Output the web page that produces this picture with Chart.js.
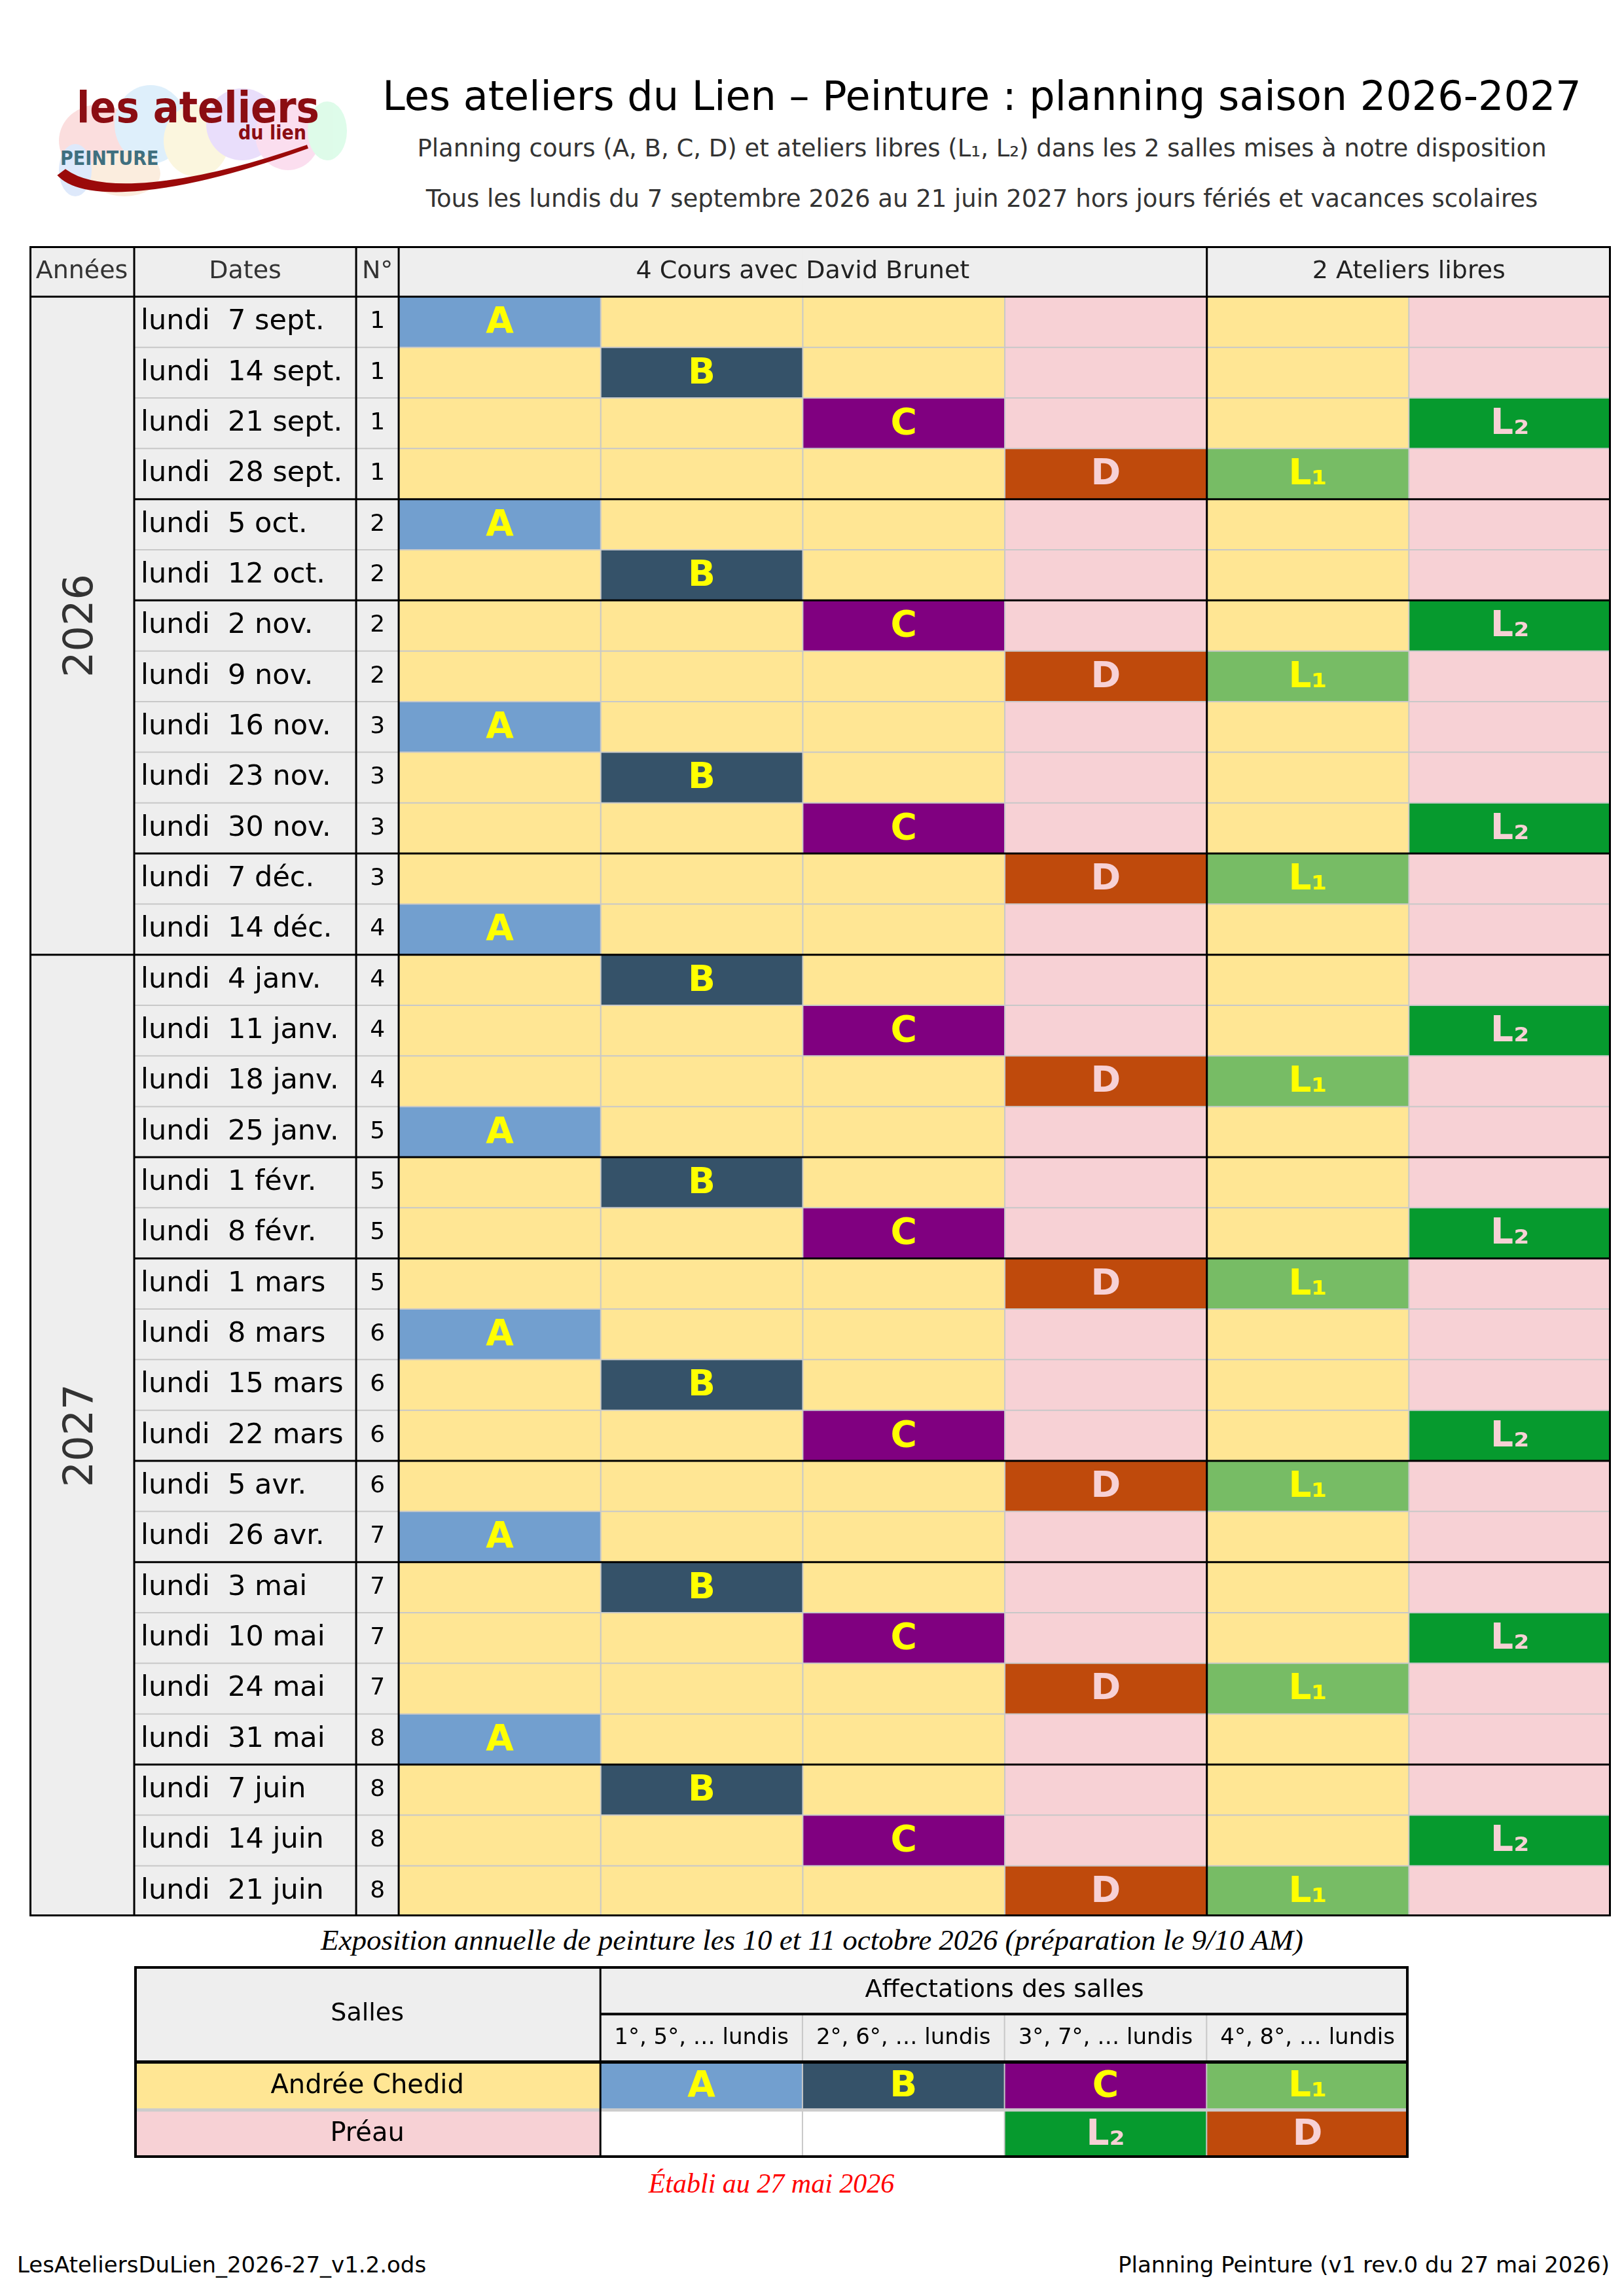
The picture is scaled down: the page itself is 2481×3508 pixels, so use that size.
<!DOCTYPE html>
<html>
<head>
<meta charset="utf-8">
<script src="https://cdn.jsdelivr.net/npm/chart.js@4"></script>
<style>
  body { margin: 0; width: 2481px; height: 3508px; background: #fff; position: relative; font-family: "DejaVu Sans", sans-serif; }
  .abs { position: absolute; }
  .txt { position: absolute; left: 0; width: 100%; text-align: center; white-space: nowrap; }
</style>
</head>
<body>
<svg class="abs" style="left:0;top:0" width="700" height="340">
  <g opacity="0.28">
    <ellipse cx="150" cy="215" rx="60" ry="55" fill="#f48a8a"/>
    <ellipse cx="230" cy="190" rx="55" ry="60" fill="#8ac8f4"/>
    <ellipse cx="300" cy="215" rx="50" ry="55" fill="#f4e08a"/>
    <ellipse cx="370" cy="190" rx="55" ry="55" fill="#b48af4"/>
    <ellipse cx="440" cy="205" rx="50" ry="55" fill="#f48ac8"/>
    <ellipse cx="500" cy="200" rx="30" ry="45" fill="#8af4b4"/>
    <ellipse cx="190" cy="265" rx="55" ry="35" fill="#f4c08a"/>
    <ellipse cx="115" cy="260" rx="25" ry="40" fill="#8ab4f4"/>
  </g>
  <text x="117" y="187" font-family="DejaVu Sans Condensed" font-weight="bold" font-size="66" fill="#8b0d12">les ateliers</text>
  <text x="468" y="213" text-anchor="end" font-family="DejaVu Sans Condensed" font-weight="bold" font-size="30" fill="#8b0d12">du lien</text>
  <text x="92" y="252" font-family="DejaVu Sans Condensed" font-weight="bold" font-size="30" fill="#3f6f7f">PEINTURE</text>
  <path d="M92,268 C130,305 260,300 470,224 C280,290 150,298 100,262 Z" fill="#9b0a0a" stroke="#9b0a0a" stroke-width="6"/>
</svg>

<div class="abs" style="left:520px;top:110px;width:1960px;">
  <div class="txt" style="top:0;font-size:62px;color:#000;">Les ateliers du Lien – Peinture : planning saison 2026-2027</div>
  <div class="txt" style="top:95px;font-size:37px;color:#333;">Planning cours (A, B, C, D) et ateliers libres (L₁, L₂) dans les 2 salles mises à notre disposition</div>
  <div class="txt" style="top:172px;font-size:37px;color:#333;">Tous les lundis du 7 septembre 2026 au 21 juin 2027 hors jours fériés et vacances scolaires</div>
</div>

<div class="abs" style="left:45px;top:376px;width:2416px;height:2552px;"><canvas id="planning"></canvas></div>

<div class="txt" style="top:2938px;font-family:'Liberation Serif';font-style:italic;font-size:45px;color:#000;left:0;">Exposition annuelle de peinture les 10 et 11 octobre 2026 (préparation le 9/10 AM)</div>

<div class="abs" style="left:205px;top:3004px;width:1947px;height:293px;"><canvas id="salles"></canvas></div>

<div class="txt" style="top:3312px;left:-62px;font-family:'Liberation Serif';font-style:italic;font-size:42px;color:#ff0000;">Établi au 27 mai 2026</div>
<div class="abs" style="left:26px;top:3440px;font-size:34px;color:#000;">LesAteliersDuLien_2026-27_v1.2.ods</div>
<div class="abs" style="right:22px;top:3440px;font-size:34px;color:#000;">Planning Peinture (v1 rev.0 du 27 mai 2026)</div>

<script>
// ---- data ----
const years = ['2026','2026','2026','2026','2026','2026','2026','2026','2026','2026','2026','2026','2026',
  '2027','2027','2027','2027','2027','2027','2027','2027','2027','2027','2027','2027','2027','2027','2027','2027','2027','2027'];
const dates = ['7 sept.','14 sept.','21 sept.','28 sept.','5 oct.','12 oct.','2 nov.','9 nov.','16 nov.','23 nov.','30 nov.',
  '7 déc.','14 déc.','4 janv.','11 janv.','18 janv.','25 janv.','1 févr.','8 févr.','1 mars','8 mars','15 mars','22 mars',
  '5 avr.','26 avr.','3 mai','10 mai','24 mai','31 mai','7 juin','14 juin','21 juin'];
const seances = [1,1,1,1,2,2,2,2,3,3,3,3,4,4,4,4,5,5,5,5,6,6,6,6,7,7,7,7,8,8,8,8];
const cours = ['A','B','C','D','A','B','C','D','A','B','C','D','A','B','C','D','A','B','C','D','A','B','C','D','A','B','C','D','A','B','C','D'];
const ateliers = ['','','L₂','L₁','','','L₂','L₁','','','L₂','L₁','','','L₂','L₁','','','L₂','L₁','','','L₂','L₁','','','L₂','L₁','','','L₂','L₁'];
years.push('2027');

const headers = ['Années','Dates','N°'];
const groupHeaders = ['4 Cours avec David Brunet','2 Ateliers libres'];

const salles = ['Andrée Chedid','Préau'];
const lundis = ['1°, 5°, … lundis','2°, 6°, … lundis','3°, 7°, … lundis','4°, 8°, … lundis'];
const affectChedid = ['A','B','C','L₁'];
const affectPreau = ['','','L₂','D'];

// ---- styles ----
const fill = { A:'#729fcf', B:'#355269', C:'#800080', D:'#bf4a0c', 'L₁':'#77bc65', 'L₂':'#069a2e' };
const ink = { A:'#ffff00', B:'#ffff00', C:'#ffff00', 'L₁':'#ffff00', D:'#f7d1d5', 'L₂':'#f7d1d5' };
const YEL = '#ffe694', PINK = '#f7d1d5', GREY = '#eeeeee', GRID = '#c8c8c8';
const baseCols = [YEL, YEL, YEL, PINK, YEL, PINK];
const coursCol = { A:0, B:1, C:2, D:3 };
const atelierCol = { 'L₁':4, 'L₂':5 };
const colW = [160, 339, 65, 308.6, 308.6, 308.6, 308.6, 308.6, 308.6];

function letterAt(i, c) {
  if (coursCol[cours[i]] === c) return cours[i];
  if (atelierCol[ateliers[i]] === c) return ateliers[i];
  return '';
}
function cellColor(k, r) {
  if (r === 0 || k < 3) return GREY;
  const l = letterAt(r - 1, k - 3);
  return l ? fill[l] : baseCols[k - 3];
}
function month(r) { return dates[r].split(' ')[1]; }

function line(ctx, x1, y1, x2, y2, color, w) {
  ctx.strokeStyle = color; ctx.lineWidth = w;
  ctx.beginPath(); ctx.moveTo(x1, y1); ctx.lineTo(x2, y2); ctx.stroke();
}
function text(ctx, s, x, y, font, color, align) {
  ctx.font = font; ctx.fillStyle = color; ctx.textAlign = align || 'center'; ctx.textBaseline = 'middle';
  ctx.fillText(s, x, y);
}
function colEdges(x, widths) {
  const xs = [0];
  widths.forEach(w => xs.push(xs[xs.length - 1] + w));
  return xs.map(v => x.getPixelForValue(v));
}

const LETTER_FONT = 'bold 55px "DejaVu Sans"';

const planningPlugin = {
  id: 'planningDecor',
  afterDatasetsDraw(chart) {
    const { ctx, scales: { x, y } } = chart;
    const px = colEdges(x, colW);
    const h = y.getPixelForValue(1) - y.getPixelForValue(0);
    const top = r => y.getPixelForValue(r) - h / 2;
    const n = dates.length + 1;
    ctx.save();
    // grey grid
    for (let r = 2; r < n; r++) {
      if (month(r - 1) !== month(r - 2)) continue;
      line(ctx, px[1], top(r), px[9], top(r), GRID, 2);
    }
    [4, 5, 6, 8].forEach(k => line(ctx, px[k], top(1), px[k], top(n), GRID, 2));
    // black rules
    for (let r = 2; r < n; r++) {
      if (years[r - 1] !== years[r - 2]) line(ctx, px[0], top(r), px[9], top(r), '#000', 3);
      else if (month(r - 1) !== month(r - 2)) line(ctx, px[1], top(r), px[9], top(r), '#000', 3);
    }
    [1, 2, 3, 7].forEach(k => line(ctx, px[k], top(0), px[k], top(n), '#000', 3));
    line(ctx, px[0], top(1), px[9], top(1), '#000', 3);
    ctx.strokeStyle = '#000'; ctx.lineWidth = 4;
    ctx.strokeRect(px[0] + 1, top(0) + 1, px[9] - px[0] - 2, top(n) - top(0) - 2);
    // header text
    const hy = y.getPixelForValue(0);
    const hf = '38px "DejaVu Sans"';
    headers.forEach((s, k) => text(ctx, s, (px[k] + px[k + 1]) / 2, hy, hf, '#333'));
    text(ctx, groupHeaders[0], (px[3] + px[7]) / 2, hy, hf, '#222');
    text(ctx, groupHeaders[1], (px[7] + px[9]) / 2, hy, hf, '#222');
    // rows
    dates.forEach((d, i) => {
      const cy = y.getPixelForValue(i + 1);
      text(ctx, 'lundi  ' + d, px[1] + 10, cy, '43px "DejaVu Sans"', '#000', 'left');
      text(ctx, String(seances[i]), (px[2] + px[3]) / 2, cy, '36px "DejaVu Sans"', '#000');
      for (let c = 0; c < 6; c++) {
        const l = letterAt(i, c);
        if (l) text(ctx, l, (px[c + 3] + px[c + 4]) / 2, cy + 2, LETTER_FONT, ink[l]);
      }
    });
    // years
    let start = 0;
    for (let i = 1; i <= dates.length; i++) {
      if (i === dates.length || years[i] !== years[start]) {
        const cy = (top(start + 1) + top(i + 1)) / 2;
        ctx.save();
        ctx.translate((px[0] + px[1]) / 2, cy);
        ctx.rotate(-Math.PI / 2);
        text(ctx, years[start], 0, 0, '62px "DejaVu Sans"', '#333');
        ctx.restore();
        start = i;
      }
    }
    ctx.restore();
  }
};

const rowLabels = ['header'].concat(dates);
new Chart(document.getElementById('planning'), {
  type: 'bar',
  data: {
    labels: rowLabels,
    datasets: colW.map((w, k) => ({
      data: rowLabels.map(() => w),
      backgroundColor: rowLabels.map((_, r) => cellColor(k, r)),
      borderWidth: 0,
      categoryPercentage: 1,
      barPercentage: 1
    }))
  },
  options: {
    indexAxis: 'y',
    responsive: true,
    maintainAspectRatio: false,
    animation: false,
    devicePixelRatio: 1,
    layout: { padding: 0 },
    plugins: { legend: { display: false }, tooltip: { enabled: false } },
    scales: {
      x: { stacked: true, min: 0, max: colW.reduce((a, b) => a + b, 0), display: false },
      y: { stacked: true, display: false }
    }
  },
  plugins: [planningPlugin]
});

// ---- room legend table ----
const colW2 = [712, 308.6, 308.6, 308.6, 308.6];
const legendRows = ['h1', 'h2'].concat(salles);
function legendColor(k, r) {
  if (r < 2) return GREY;
  if (k === 0) return r === 2 ? YEL : PINK;
  const l = (r === 2 ? affectChedid : affectPreau)[k - 1];
  return l ? fill[l] : '#ffffff';
}
const sallesPlugin = {
  id: 'sallesDecor',
  afterDatasetsDraw(chart) {
    const { ctx, scales: { x, y } } = chart;
    const px = colEdges(x, colW2);
    const h = y.getPixelForValue(1) - y.getPixelForValue(0);
    const top = r => y.getPixelForValue(r) - h / 2;
    ctx.save();
    [2, 3, 4].forEach(k => line(ctx, px[k], top(1), px[k], top(4), GRID, 2));
    line(ctx, px[0], top(3), px[5], top(3), '#cccccc', 5);
    line(ctx, px[1], top(1), px[5], top(1), '#000', 4);
    line(ctx, px[0], top(2), px[5], top(2), '#000', 5);
    line(ctx, px[1], top(0), px[1], top(4), '#000', 3);
    ctx.strokeStyle = '#000'; ctx.lineWidth = 4;
    ctx.strokeRect(px[0] + 2, top(0) + 2, px[5] - px[0] - 4, top(4) - top(0) - 4);
    text(ctx, 'Salles', (px[0] + px[1]) / 2, top(1), '38px "DejaVu Sans"', '#000');
    text(ctx, 'Affectations des salles', (px[1] + px[5]) / 2, y.getPixelForValue(0), '38px "DejaVu Sans"', '#000');
    lundis.forEach((s, k) => text(ctx, s, (px[k + 1] + px[k + 2]) / 2, y.getPixelForValue(1), '34px "DejaVu Sans"', '#000'));
    salles.forEach((s, i) => text(ctx, s, (px[0] + px[1]) / 2, y.getPixelForValue(i + 2), '40px "DejaVu Sans"', '#000'));
    [affectChedid, affectPreau].forEach((row, i) => row.forEach((l, k) => {
      if (l) text(ctx, l, (px[k + 1] + px[k + 2]) / 2, y.getPixelForValue(i + 2) + 2, LETTER_FONT, ink[l]);
    }));
    ctx.restore();
  }
};
new Chart(document.getElementById('salles'), {
  type: 'bar',
  data: {
    labels: legendRows,
    datasets: colW2.map((w, k) => ({
      data: legendRows.map(() => w),
      backgroundColor: legendRows.map((_, r) => legendColor(k, r)),
      borderWidth: 0,
      categoryPercentage: 1,
      barPercentage: 1
    }))
  },
  options: {
    indexAxis: 'y',
    responsive: true,
    maintainAspectRatio: false,
    animation: false,
    devicePixelRatio: 1,
    layout: { padding: 0 },
    plugins: { legend: { display: false }, tooltip: { enabled: false } },
    scales: {
      x: { stacked: true, min: 0, max: colW2.reduce((a, b) => a + b, 0), display: false },
      y: { stacked: true, display: false }
    }
  },
  plugins: [sallesPlugin]
});
</script>
</body>
</html>
